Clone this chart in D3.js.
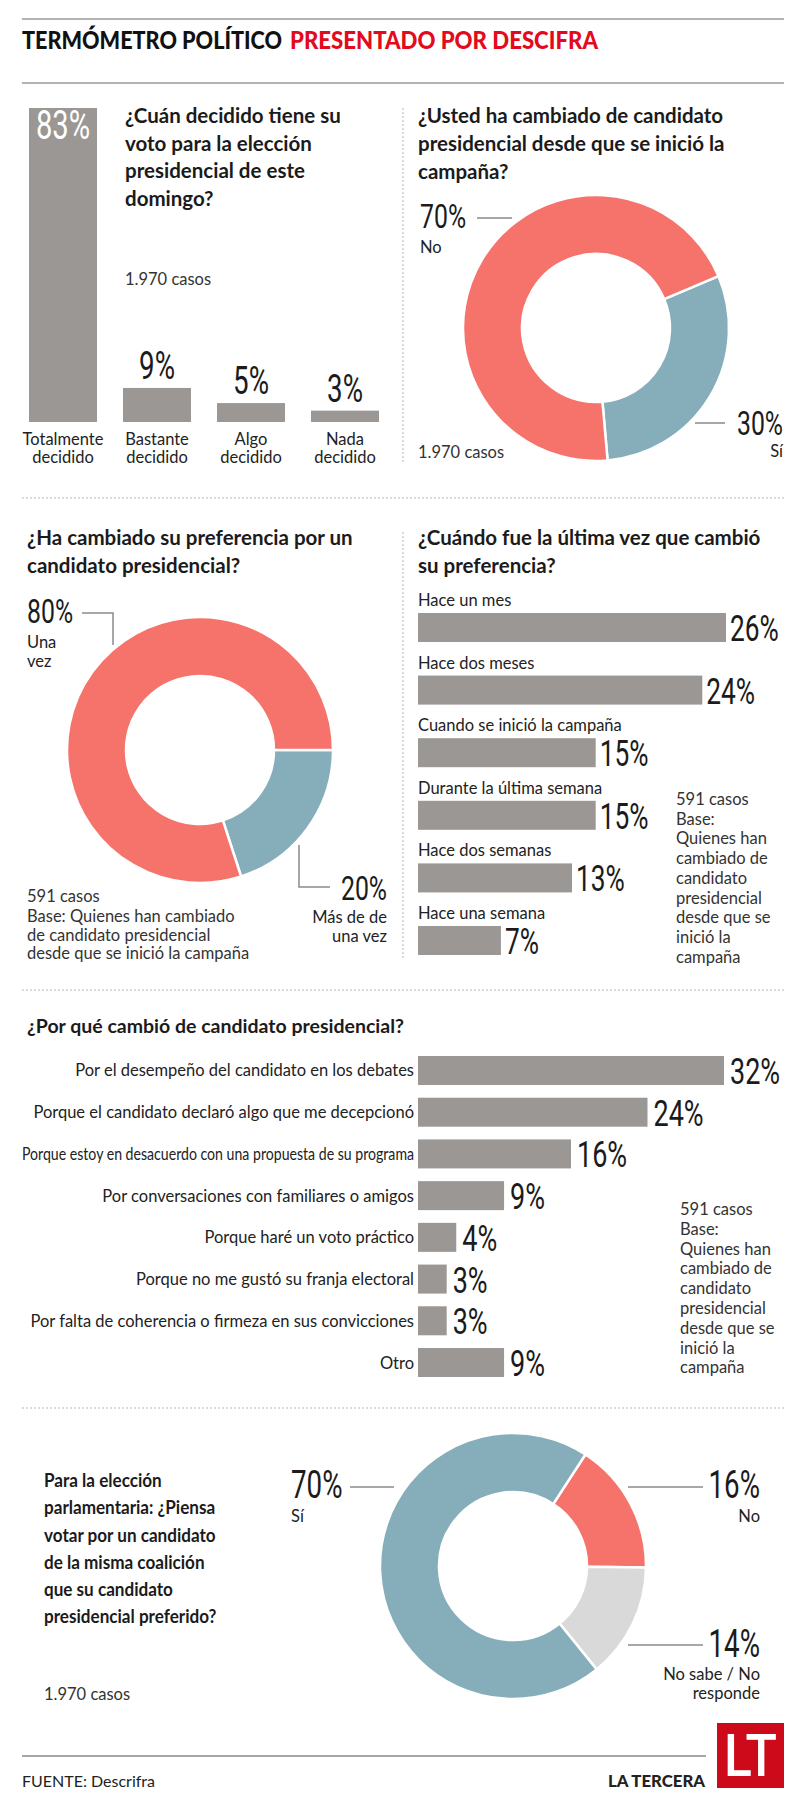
<!DOCTYPE html>
<html><head><meta charset="utf-8">
<script src="https://cdn.jsdelivr.net/npm/d3@7"></script>
<style>
html,body{margin:0;padding:0;background:#fff;}
svg text{font-family:Lato,"Open Sans",sans-serif;}
</style></head>
<body>
<script>
// ---------- DATA ----------
const decisionCategories = [["Totalmente","decidido"],["Bastante","decidido"],["Algo","decidido"],["Nada","decidido"]];
const decisionValues = [83, 9, 5, 3];

const changedLabels = ["Sí", "No"];
const changedValues = [30, 70];

const preferenceLabels = ["Más de una vez", "Una vez"];
const preferenceValues = [20, 80];

const lastChangeCategories = ["Hace un mes","Hace dos meses","Cuando se inició la campaña","Durante la última semana","Hace dos semanas","Hace una semana"];
const lastChangeValues = [26, 24, 15, 15, 13, 7];

const reasonCategories = [
  "Por el desempeño del candidato en los debates",
  "Porque el candidato declaró algo que me decepcionó",
  "Porque estoy en desacuerdo con una propuesta de su programa",
  "Por conversaciones con familiares o amigos",
  "Porque haré un voto práctico",
  "Porque no me gustó su franja electoral",
  "Por falta de coherencia o firmeza en sus convicciones",
  "Otro"];
const reasonValues = [32, 24, 16, 9, 4, 3, 3, 9];

const parlLabels = ["No", "No sabe / No responde", "Sí"];
const parlValues = [16, 14, 70];

// ---------- STYLE ----------
const GRAY = "#9a9794", RED = "#f5736b", TEAL = "#85aeba", LIGHT = "#d9d9d9", INK = "#1b1b1b";
const W = 800, H = 1808;
const svg = d3.select("body").append("svg").attr("width", W).attr("height", H);

function lines(x, y, lh, arr, size, weight, anchor, fill, sx) {
  const g = svg.append("g").attr("transform", `translate(${x},0) scale(${sx || 1},1)`);
  const t = g.append("text").attr("x", 0).attr("y", y)
    .attr("text-anchor", anchor || "start")
    .style("font-size", size + "px").style("font-weight", weight || 400)
    .attr("fill", fill || INK);
  arr.forEach((s, i) => t.append("tspan").attr("x", 0).attr("y", y + i * lh).text(s));
  return t;
}
function pct(x, y, txt, size, anchor, fill) {
  svg.append("text").attr("transform", `translate(${x},${y}) scale(0.73,1)`)
    .attr("text-anchor", anchor || "start")
    .style("font-family", "Roboto").style("font-weight", 400)
    .style("font-size", size + "px").attr("fill", fill || INK).text(txt);
}
function hline(x1, x2, y, dash, color, w) {
  svg.append("line").attr("x1", x1).attr("x2", x2).attr("y1", y).attr("y2", y)
    .attr("stroke", color || "#999").attr("stroke-width", w || 1.5)
    .attr("stroke-dasharray", dash || null);
}
function vline(x, y1, y2, dash, color, w) {
  svg.append("line").attr("x1", x).attr("x2", x).attr("y1", y1).attr("y2", y2)
    .attr("stroke", color || "#999").attr("stroke-width", w || 1.5)
    .attr("stroke-dasharray", dash || null);
}
function leader(pts) {
  svg.append("path").attr("d", d3.line()(pts)).attr("fill", "none")
    .attr("stroke", "#8a8a8a").attr("stroke-width", 1.5);
}
const deg = Math.PI / 180;
function donut(cx, cy, values, colors, start) {
  const pie = d3.pie().sort(null).startAngle(start).endAngle(start + 2 * Math.PI);
  const arc = d3.arc().innerRadius(74).outerRadius(133);
  svg.append("g").attr("transform", `translate(${cx},${cy})`)
    .selectAll("path").data(pie(values)).join("path")
    .attr("d", arc).attr("fill", (d, i) => colors[i])
    .attr("stroke", "#fff").attr("stroke-width", 2.5);
}
const Q = 20.5;

// ---------- HEADER ----------
hline(22, 784, 19, null, "#9a9a9a", 1.5);
hline(22, 784, 83, null, "#9a9a9a", 1.5);
svg.append("text").attr("x", 22).attr("y", 49).attr("textLength", 260).attr("lengthAdjust", "spacingAndGlyphs")
  .style("font-size", "24px").style("font-weight", 900).attr("fill", "#111").text("TERMÓMETRO POLÍTICO");
svg.append("text").attr("x", 290).attr("y", 49).attr("textLength", 308).attr("lengthAdjust", "spacingAndGlyphs")
  .style("font-size", "24px").style("font-weight", 900).attr("fill", "#e30a1d").text("PRESENTADO POR DESCIFRA");

// separators
const DOT = "2,2";
vline(403, 108, 464, DOT, "#b5b5b5", 1);
hline(22, 784, 498, DOT, "#b5b5b5", 1);
vline(403, 532, 958, DOT, "#b5b5b5", 1);
hline(22, 784, 990, DOT, "#b5b5b5", 1);
hline(22, 784, 1408, DOT, "#b5b5b5", 1);

// ---------- SECTION 1: vertical bars ----------
const x1 = d3.scaleBand().domain(d3.range(decisionValues.length)).range([29, 379]).paddingInner(0.2766).paddingOuter(0);
const y1 = d3.scaleLinear().domain([0, 83]).range([422, 108]);
svg.append("g").selectAll("rect").data(decisionValues).join("rect")
  .attr("x", (d, i) => x1(i)).attr("width", x1.bandwidth())
  .attr("y", d => y1(d)).attr("height", d => y1(0) - y1(d)).attr("fill", GRAY);
decisionValues.forEach((v, i) => {
  const cx = x1(i) + x1.bandwidth() / 2;
  if (i === 0) pct(cx, y1(v) + 31, v + "%", 40, "middle", "#fff");
  else pct(cx, y1(v) - 9, v + "%", 38, "middle");
  lines(cx, 445, 18, decisionCategories[i], 16.5, 400, "middle", "#222");
});
lines(125, 123, 27.5, ["¿Cuán decidido tiene su", "voto para la elección", "presidencial de este", "domingo?"], Q, 700);
lines(125, 285, 18, ["1.970 casos"], 16.5, 400, "start", "#333");

// ---------- SECTION 2: donut ----------
lines(418, 123, 28, ["¿Usted ha cambiado de candidato", "presidencial desde que se inició la", "campaña?"], Q, 700);
donut(596, 328, changedValues, [TEAL, RED], 67 * deg);
pct(420, 228, changedValues[1] + "%", 34);
lines(420, 253, 18, [changedLabels[1]], 16.5, 400, "start", "#222");
leader([[477, 218], [512, 218]]);
pct(783, 435, changedValues[0] + "%", 34, "end");
lines(783, 457, 18, [changedLabels[0]], 16.5, 400, "end", "#222");
leader([[695, 423], [725, 423]]);
lines(418, 458, 18, ["1.970 casos"], 16.5, 400, "start", "#333");

// ---------- SECTION 3: donut ----------
lines(27, 545, 27.5, ["¿Ha cambiado su preferencia por un", "candidato presidencial?"], Q, 700);
donut(200, 750, preferenceValues, [TEAL, RED], 90 * deg);
pct(27, 623, preferenceValues[1] + "%", 34);
lines(27, 648, 19, ["Una", "vez"], 16.5, 400, "start", "#222");
leader([[82, 613], [113, 613], [113, 645]]);
pct(387, 900, preferenceValues[0] + "%", 34, "end");
lines(387, 923, 19, ["Más de de", "una vez"], 16.5, 400, "end", "#222");
leader([[299, 845], [299, 887], [330, 887]]);
lines(27, 902, 19, ["591 casos"], 16.5, 400, "start", "#333");
lines(27, 922, 18.5, ["Base: Quienes han cambiado", "de candidato presidencial", "desde que se inició la campaña"], 16.5, 400, "start", "#333");

// ---------- SECTION 4: horizontal bars ----------
lines(418, 545, 27.5, ["¿Cuándo fue la última vez que cambió", "su preferencia?"], Q, 700);
const x4 = d3.scaleLinear().domain([0, 26]).range([418, 726]);
const y4 = d3.scaleBand().domain(d3.range(lastChangeValues.length)).range([613, 955]).paddingInner(0.537).paddingOuter(0);
svg.append("g").selectAll("rect").data(lastChangeValues).join("rect")
  .attr("x", x4(0)).attr("y", (d, i) => y4(i)).attr("height", y4.bandwidth())
  .attr("width", d => x4(d) - x4(0)).attr("fill", GRAY);
lastChangeValues.forEach((v, i) => {
  lines(418, y4(i) - 7, 18, [lastChangeCategories[i]], 16.5, 400, "start", "#222");
  pct(x4(v) + 4, y4(i) + y4.bandwidth() - 1, v + "%", 36);
});
lines(676, 805, 19.7, ["591 casos", "Base:", "Quienes han", "cambiado de", "candidato", "presidencial", "desde que se", "inició la", "campaña"], 16.5, 400, "start", "#333");

// ---------- SECTION 5: reasons ----------
lines(27, 1033, 27, ["¿Por qué cambió de candidato presidencial?"], 19.5, 700);
const x5 = d3.scaleLinear().domain([0, 32]).range([418, 724]);
const y5 = d3.scaleBand().domain(d3.range(reasonValues.length)).range([1056, 1377]).paddingInner(0.305).paddingOuter(0);
svg.append("g").selectAll("rect").data(reasonValues).join("rect")
  .attr("x", x5(0)).attr("y", (d, i) => y5(i)).attr("height", y5.bandwidth())
  .attr("width", d => x5(d) - x5(0)).attr("fill", GRAY);
reasonValues.forEach((v, i) => {
  const t = svg.append("text").attr("x", 414).attr("y", y5(i) + y5.bandwidth() / 2 + 6)
    .attr("text-anchor", "end").style("font-size", "16.5px").attr("fill", "#222").text(reasonCategories[i]);
  const len = t.node().getComputedTextLength();
  if (len > 392) t.attr("textLength", 392).attr("lengthAdjust", "spacingAndGlyphs");
  pct(x5(v) + 6, y5(i) + y5.bandwidth() - 1, v + "%", 37);
});
lines(680, 1215, 19.8, ["591 casos", "Base:", "Quienes han", "cambiado de", "candidato", "presidencial", "desde que se", "inició la", "campaña"], 16.5, 400, "start", "#333");

// ---------- SECTION 6: donut ----------
lines(44, 1487, 27.3, ["Para la elección", "parlamentaria: ¿Piensa", "votar por un candidato", "de la misma coalición", "que su candidato", "presidencial preferido?"], 19, 700, "start", INK, 0.9);
lines(44, 1700, 18, ["1.970 casos"], 16.5, 400, "start", "#333");
donut(513, 1566, parlValues, [RED, LIGHT, TEAL], 33 * deg);
pct(291, 1498, parlValues[2] + "%", 38);
lines(291, 1522, 18, [parlLabels[2]], 16.5, 400, "start", "#222");
leader([[350, 1487], [394, 1487]]);
pct(760, 1498, parlValues[0] + "%", 38, "end");
lines(760, 1522, 18, [parlLabels[0]], 16.5, 400, "end", "#222");
leader([[628, 1487], [703, 1487]]);
pct(760, 1657, parlValues[1] + "%", 38, "end");
lines(760, 1680, 18.5, ["No sabe / No", "responde"], 16.5, 400, "end", "#222");
leader([[628, 1645], [703, 1645]]);

// ---------- FOOTER ----------
hline(22, 706, 1756, null, "#8a8a8a", 1.5);
svg.append("text").attr("x", 22).attr("y", 1787).attr("textLength", 133).attr("lengthAdjust", "spacingAndGlyphs")
  .style("font-size", "16px").attr("fill", "#222").text("FUENTE: Descrifra");
svg.append("text").attr("x", 705).attr("y", 1787).attr("text-anchor", "end").attr("textLength", 97).attr("lengthAdjust", "spacingAndGlyphs")
  .style("font-size", "16px").style("font-weight", 900).attr("fill", "#222").text("LA TERCERA");
svg.append("rect").attr("x", 717).attr("y", 1723).attr("width", 67).attr("height", 65).attr("fill", "#cc0a1a");
svg.append("text").attr("x", 724).attr("y", 1776).attr("textLength", 53).attr("lengthAdjust", "spacingAndGlyphs")
  .style("font-family", "Roboto").style("font-size", "60px").style("font-weight", 500).attr("fill", "#fff").text("LT");
</script>
</body></html>
